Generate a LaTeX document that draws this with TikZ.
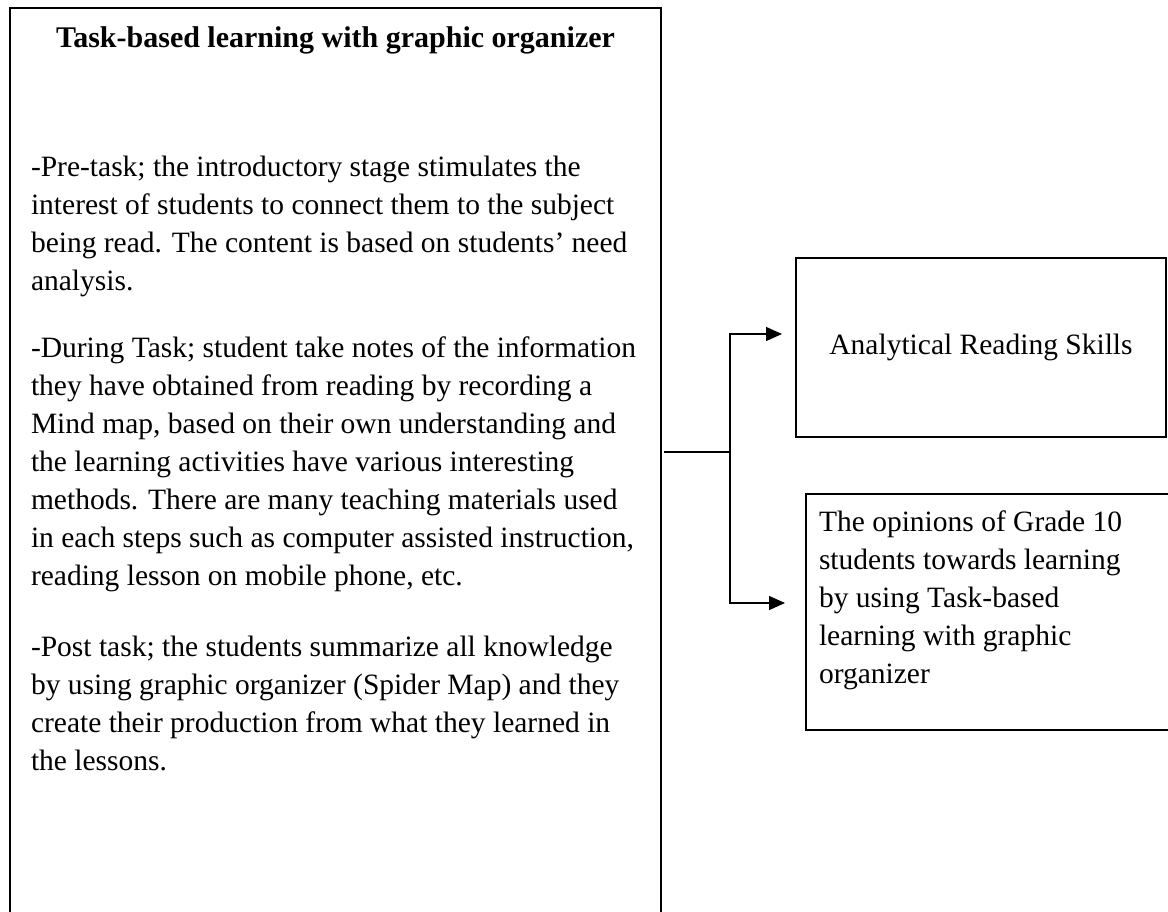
\documentclass[tikz,border=0pt]{standalone}
\usepackage{fontspec}
\setmainfont{Liberation Serif}
\usetikzlibrary{arrows.meta}
\begin{document}
\begin{tikzpicture}[x=1pt,y=-1pt,
  frame/.style={draw=black,line width=1.6pt,inner sep=0pt,outer sep=0pt},
  body/.style={inner sep=0pt,outer sep=0pt,align=left,anchor=north west,
    font=\fontsize{29.5}{38}\selectfont},
  link/.style={draw=black,line width=1.4pt},
  tip/.style={-{Triangle[length=16pt,width=14pt]}}]
\useasboundingbox (0,0) rectangle (1168,912);
\clip (0,0) rectangle (1168,912);
\fill[white] (0,0) rectangle (1168,912);

% left panel: runs past the bottom edge of the page
\node[frame,anchor=north west,minimum width=651,minimum height=950] (panel) at (10,8) {};
\node[inner sep=0pt,anchor=base,font=\bfseries\fontsize{30}{38}\selectfont] (title)
  at (335.5,48) {Task-based learning with graphic organizer};

\node[body] (pre) at (31,150.4) {\strut -Pre-task; the introductory stage stimulates the\\
interest of students to connect them to the subject\\
being read. The content is based on students’ need\\
analysis.};

\node[body] (during) at (31,330.4) {\strut -During Task; student take notes of the information\\
they have obtained from reading by recording a\\
Mind map, based on their own understanding and\\
the learning activities have various interesting\\
methods. There are many teaching materials used\\
in each steps such as computer assisted instruction,\\
reading lesson on mobile phone, etc.};

\node[body] (post) at (31,629.4) {\strut -Post task; the students summarize all knowledge\\
by using graphic organizer (Spider Map) and they\\
create their production from what they learned in\\
the lessons.};

% outcome boxes
\node[frame,anchor=north west,minimum width=370,minimum height=179,
  font=\fontsize{29.5}{38}\selectfont] (goal) at (796,258) {Analytical Reading Skills};

\node[frame,anchor=north west,minimum width=390,minimum height=236] (view) at (806,494) {};
\node[body] (viewtext) at (819,504.4) {\strut The opinions of Grade 10\\
students towards learning\\
by using Task-based\\
learning with graphic\\
organizer};

% connectors
\coordinate (split) at (730,452);
\coordinate (toGoal) at (782,334);
\coordinate (toView) at (785,603);
\draw[link] ([xshift=3pt]panel.east |- split) -- (split);
\draw[link,tip] (split) |- (toGoal);
\draw[link,tip] (split) |- (toView);
\end{tikzpicture}
\end{document}
